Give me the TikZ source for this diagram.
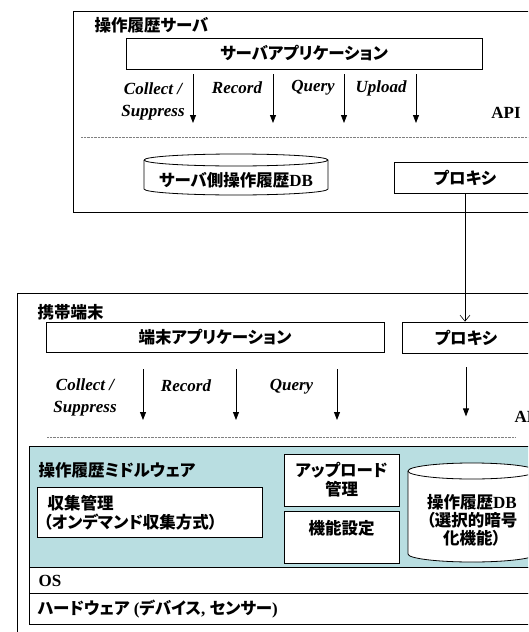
\documentclass[tikz,border=0pt]{standalone}
\usepackage{fontspec}
\setmainfont{Liberation Serif}
\newfontfamily\jpfont[RawFeature=+palt]{Noto Sans CJK JP Bold}
\usetikzlibrary{arrows.meta}
\definecolor{mwteal}{HTML}{B9DEE1}
\tikzset{
  box/.style={draw, line width=0.8pt, fill=white, inner sep=0pt},
  jptext/.style={font=\fontsize{16.5}{19}\selectfont\bfseries\jpfont},
  lattext/.style={font=\fontsize{17}{22}\selectfont\bfseries\itshape, align=center},
  apitext/.style={font=\fontsize{17}{20}\selectfont\bfseries},
  apiarrow/.style={-{Triangle[width=6pt,length=8pt]}, line width=0.8pt},
  proxyarrow/.style={-{Straight Barb[width=10pt,length=6pt]}, line width=0.6pt},
}
\begin{document}
\begin{tikzpicture}[x=1pt, y=-1pt]
    \useasboundingbox (0, 0) rectangle (528, 632);
    \clip (0, 0) rectangle (528, 632);
    \fill[white] (0, 0) rectangle (528, 632);

    \draw[line width=0.8pt] (73, 11) rectangle (560, 212);
    \node[jptext, anchor=west] (srvtitle) at (91, 25) {操作履歴サーバ};
    \node[box, jptext, minimum width=356pt, minimum height=31pt]%
         (srvapp) at (304, 53.5) {サーバアプリケーション};
    \foreach \x in {193, 273, 344, 416}
        \draw[apiarrow] (\x, 74) -- (\x, 123);
    \node[lattext] (srvcollect) at (153, 101) {Collect /\\Suppress};
    \node[lattext] (srvrecord) at (237, 88) {Record};
    \node[lattext] (srvquery) at (313, 88) {Query};
    \node[lattext] (srvupload) at (381, 88) {Upload};
    \node[apitext] (srvapi) at (506, 113) {API};
    \draw[style=densely dotted, draw=gray] (81, 137) -- (560, 137);

    \draw[line width=0.8pt, fill=white] (144, 160) -- (144, 189)%
        arc[start angle=180, end angle=0, x radius=92, y radius=6] --%
        (328, 160) arc[start angle=0, end angle=-180, x radius=92, y radius=6];
    \draw[line width=0.8pt] (144, 160)%
        arc[start angle=180, end angle=0, x radius=92, y radius=6];
    \node[font=\fontsize{17}{20}\selectfont\bfseries] (srvdb) at (236, 180)%
         {{\jpfont\fontsize{16.5}{19}\selectfont サーバ側操作履歴}DB};
    \node[box, jptext, minimum width=142pt, minimum height=31pt]%
         (srvproxy) at (465, 177.5) {プロキシ};

    \draw[line width=0.8pt] (17, 293) rectangle (560, 700);
    \node[jptext, anchor=west] (mobtitle) at (34, 312) {携帯端末};
    \node[box, jptext, minimum width=338pt, minimum height=30pt]%
         (mobapp) at (215, 337) {端末アプリケーション};
    \node[box, jptext, minimum width=128pt, minimum height=31pt]%
         (mobproxy) at (466, 337.5) {プロキシ};
    \draw[proxyarrow] (srvproxy.south) -- (srvproxy.south |- mobproxy.north);
    \foreach \x in {143, 236, 337}
        \draw[apiarrow] (\x, 369) -- (\x, 420);
    \draw[apiarrow] ([yshift=-14pt]mobproxy.south) --%
        ([yshift=-63pt]mobproxy.south);
    \node[lattext] (mobcollect) at (85, 397.5) {Collect /\\Suppress};
    \node[lattext] (mobrecord) at (186, 386) {Record};
    \node[lattext] (mobquery) at (291.5, 387) {Query};
    \node[apitext, anchor=west] (mobapi) at (511, 417) {API};
    \draw[style=densely dotted, draw=gray] (47, 437) -- (515, 437);

    \draw[line width=0.8pt, fill=mwteal] (29, 446) rectangle (560, 567);
    \node[jptext, anchor=west] (mwtitle) at (35, 470) {操作履歴ミドルウェア};
    \node[box, minimum width=225pt, minimum height=50pt]%
         (collectbox) at (149.5, 512) {};
    \node[jptext, anchor=west, align=left] (collecttext) at (40, 513)%
         {\hspace*{4pt}収集管理\\（オンデマンド収集方式）};
    \node[box, jptext, align=center, minimum width=115pt, minimum height=52pt]%
         (uploadbox) at (341.5, 480) {アップロード\\管理};
    \node[box, minimum width=115pt, minimum height=52pt]%
         (configbox) at (341.5, 537) {};
    \node[jptext] (configtext) at (341.5, 528) {機能設定};

    \draw[line width=0.8pt, fill=white] (408, 471) -- (408, 554)%
        arc[start angle=180, end angle=0, x radius=64, y radius=8] --%
        (536, 471) arc[start angle=0, end angle=-180, x radius=64, y radius=8];
    \draw[line width=0.8pt] (408, 471)%
        arc[start angle=180, end angle=0, x radius=64, y radius=8];
    \node[font=\fontsize{17}{18}\selectfont\bfseries, align=center]%
         (mobdb) at (472, 520)%
         {{\jpfont\fontsize{16.5}{18}\selectfont 操作履歴}DB\\%
          {\jpfont\fontsize{16.5}{18}\selectfont （選択的暗号}\\%
          {\jpfont\fontsize{16.5}{18}\selectfont 化機能）}};

    \draw[line width=0.8pt] (29, 567) rectangle (560, 593);
    \node[apitext, anchor=west] (ostext) at (35, 581) {OS};
    \draw[line width=0.8pt] (29, 593) rectangle (560, 624);
    \node[font=\fontsize{17}{20}\selectfont\bfseries, anchor=west]%
         (hwtext) at (34, 609)%
         {{\jpfont\fontsize{16.5}{19}\selectfont ハードウェア} ({\jpfont\fontsize{16.5}{19}\selectfont デバイス}, {\jpfont\fontsize{16.5}{19}\selectfont センサー})};
  \end{tikzpicture}
\end{document}
